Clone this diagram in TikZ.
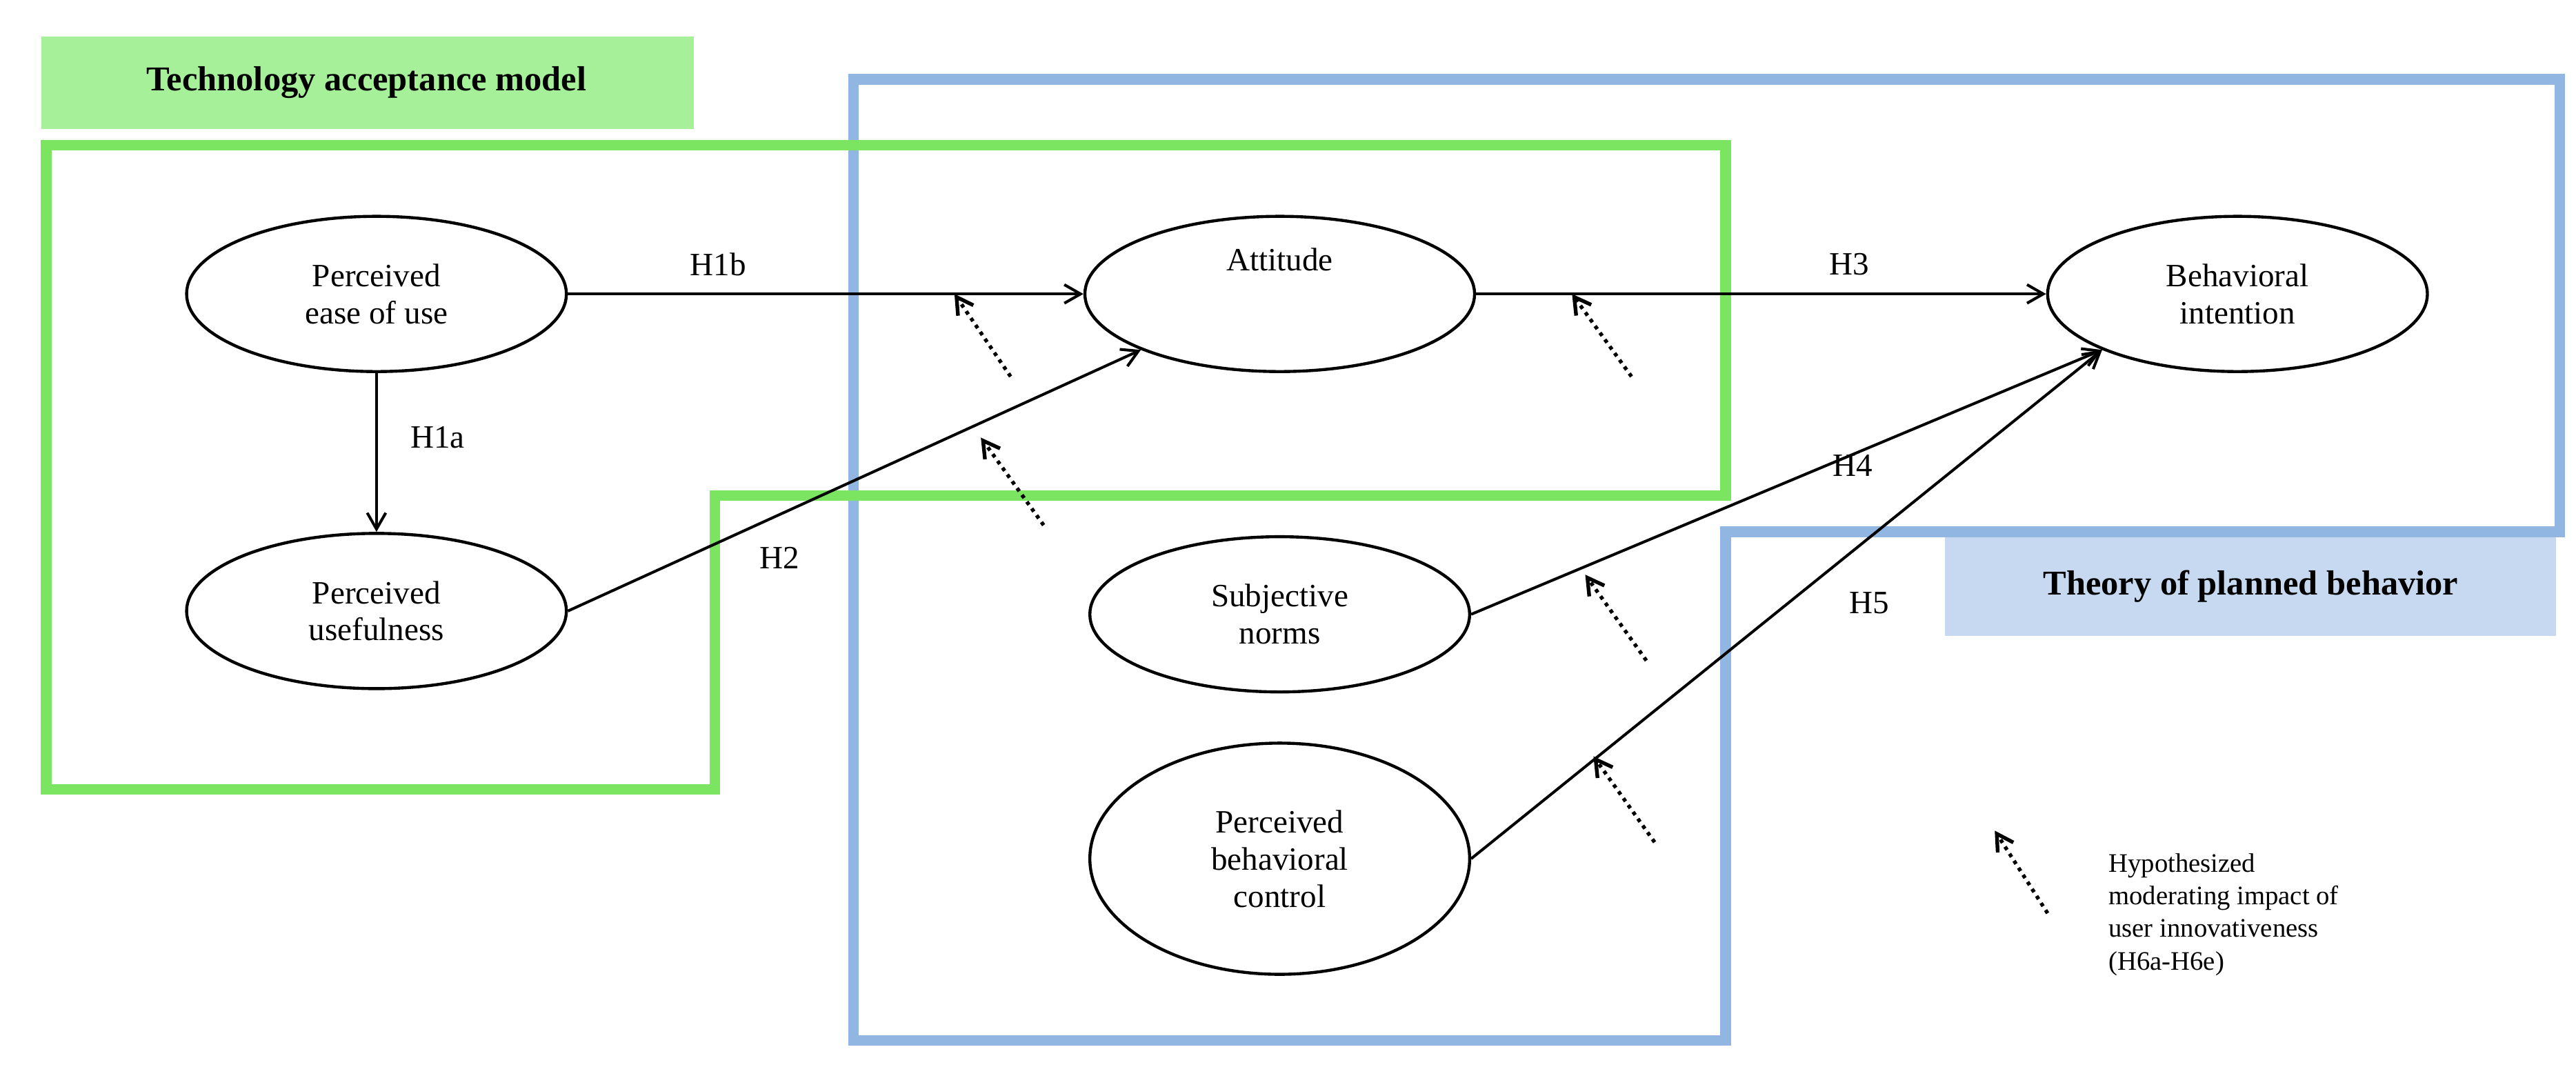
\documentclass[tikz,border=0pt]{standalone}
\usepackage{fontspec}
\setmainfont{Liberation Serif}
\usetikzlibrary{arrows.meta,shapes.geometric}
\begin{document}
\begin{tikzpicture}[x=0.025cm,y=-0.025cm,
  el/.style={draw,line width=1.3pt,ellipse,minimum width=230*0.025cm,minimum height=94*0.025cm,inner sep=0pt,align=center,font=\fontsize{14}{16}\selectfont},
  arr/.style={-{Straight Barb[length=7pt,width=8pt]},line width=1.2pt},
  dots/.style={-{Straight Barb[length=7pt,width=8pt]},line width=1.6pt,dotted},
  lab/.style={font=\fontsize{14}{16}\selectfont},
  green/.style={draw=gline,line width=4.5pt},
  blue/.style={draw=bline,line width=4.5pt}]
\definecolor{gline}{HTML}{7BE562}
\definecolor{gfill}{HTML}{A6F09A}
\definecolor{bline}{HTML}{92B6E2}
\definecolor{bfill}{HTML}{C6D9F1}
\useasboundingbox (0,0) rectangle (1560,646);
\fill[gfill] (25,22) rectangle (420,78);
\node[font=\fontsize{15}{17}\selectfont\bfseries] (tamlab) at (222,50) {Technology acceptance model};
\fill[bfill] (1178,325) rectangle (1548,385);
\node[font=\fontsize{15}{17}\selectfont\bfseries] (tpblab) at (1363,355) {Theory of planned behavior};
\draw[blue] (517,48) -- (1550,48) -- (1550,322) -- (1045,322) -- (1045,630) -- (517,630) -- cycle;
\draw[green] (28,88) -- (1045,88) -- (1045,300) -- (433,300) -- (433,478) -- (28,478) -- cycle;
\node[el] (peou) at (228,178) {Perceived\\ease of use};
\node[el] (pu) at (228,370) {Perceived\\usefulness};
\node[el,minimum width=236*0.025cm] (att) at (775,178) {Attitude\\[14pt]};
\node[el] (bi) at (1355,178) {Behavioral\\intention};
\node[el] (sn) at (775,372) {Subjective\\norms};
\node[el,minimum height=140*0.025cm] (pbc) at (775,520) {Perceived\\behavioral\\control};
\draw[arr] (peou.east) -- (att.west);
\draw[arr] (peou.south) -- (pu.north);
\draw[arr] (pu.east) -- (att.south west);
\draw[arr] (att.east) -- (bi.west);
\draw[arr] (sn.east) -- (bi.south west);
\draw[arr] (pbc.east) -- (bi.south west);
\node[lab] (h1b) at (435,160) {H1b};
\node[lab] (h1a) at (265,265) {H1a};
\node[lab] (h2) at (472,338) {H2};
\node[lab] (h3) at (1120,160) {H3};
\node[lab] (h4) at (1122,282) {H4};
\node[lab] (h5) at (1132,365) {H5};
\coordinate (d1a) at (612,228); \coordinate (d1b) at (578,178);
\coordinate (d2a) at (632,318); \coordinate (d2b) at (594,265);
\coordinate (d3a) at (988,228); \coordinate (d3b) at (952,178);
\coordinate (d4a) at (997,400); \coordinate (d4b) at (960,348);
\coordinate (d5a) at (1002,510); \coordinate (d5b) at (965,458);
\coordinate (d6a) at (1240,553); \coordinate (d6b) at (1208,503);
\foreach \i in {1,...,6} \draw[dots] (d\i a) -- (d\i b);
\node[align=left,anchor=north west,font=\fontsize{11.5}{14}\selectfont] (leg) at (1272,512) {Hypothesized\\moderating impact of\\user innovativeness\\(H6a-H6e)};
\end{tikzpicture}
\end{document}
